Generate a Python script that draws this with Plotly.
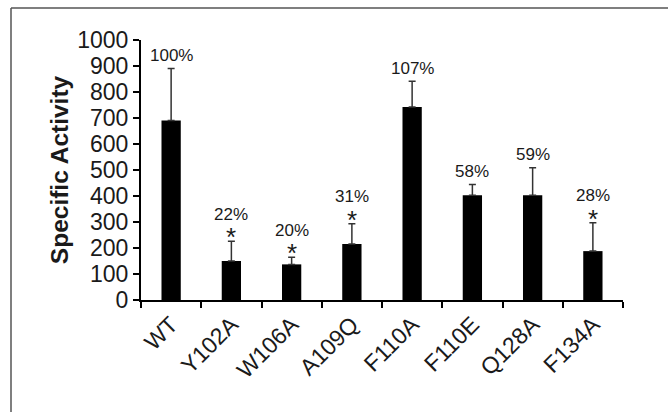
import plotly.graph_objects as go

categories = ["WT", "Y102A", "W106A", "A109Q", "F110A", "F110E", "Q128A", "F134A"]
values = [690, 150, 137, 215, 742, 403, 403, 188]
errors = [200, 76, 27, 78, 99, 41, 106, 109]
percent_labels = ["100%", "22%", "20%", "31%", "107%", "58%", "59%", "28%"]
significant = [False, True, True, True, False, False, False, True]
y_ticks = list(range(0, 1001, 100))

W, H = 668, 412
ml, mr, mt, mb = 141, 45, 40, 112
FONT = "Liberation Sans, Arial, sans-serif"
TXT = "#1a1a1a"

fig = go.Figure()
fig.add_trace(go.Bar(
    x=categories, y=values, width=0.32,
    marker=dict(color="black", line=dict(color="black", width=0)),
    error_y=dict(type="data", array=errors, arrayminus=[0]*len(errors),
                 symmetric=False, color="#333333", thickness=1.5, width=3.5),
))

for c, v, e, p, s in zip(categories, values, errors, percent_labels, significant):
    top = v + e
    if s:
        fig.add_annotation(x=c, y=top, text="*", showarrow=False, yanchor="middle",
                           yshift=4, font=dict(family=FONT, size=26, color=TXT))
        fig.add_annotation(x=c, y=top, text=p, showarrow=False, yanchor="middle",
                           yshift=27, font=dict(family=FONT, size=17, color=TXT))
    else:
        fig.add_annotation(x=c, y=top, text=p, showarrow=False, yanchor="middle",
                           yshift=13, font=dict(family=FONT, size=17, color=TXT))

# outer frame (decorative border of the figure panel: left and top edges)
pw = W - ml - mr
ph = H - mt - mb
fx0 = (11 - ml) / pw
fy1 = 1 + (mt - 8) / ph
frame = dict(color="#555555", width=1.5)
fig.add_shape(type="line", xref="paper", yref="paper", x0=fx0, x1=fx0,
              y0=-(mb + 10) / ph, y1=fy1, line=frame, layer="below")
fig.add_shape(type="line", xref="paper", yref="paper", x0=fx0, x1=1 + (mr + 10) / pw,
              y0=fy1, y1=fy1, line=frame, layer="below")

fig.update_layout(
    width=W, height=H, margin=dict(l=ml, r=mr, t=mt, b=mb, autoexpand=False),
    paper_bgcolor="white", plot_bgcolor="white", showlegend=False,
    font=dict(family=FONT, color=TXT),
    xaxis=dict(type="category", showline=True, linecolor="black", linewidth=2,
               ticks="outside", tickson="boundaries", ticklen=6, tickwidth=2,
               tickcolor="black", tickangle=-45, tickfont=dict(size=23, family=FONT, color=TXT),
               showgrid=False, zeroline=False, range=[-0.5, len(categories) - 0.5],
               automargin=False),
    yaxis=dict(range=[0, 1000], tickvals=y_ticks, showline=True, linecolor="black",
               linewidth=2, ticks="outside", ticklen=6, tickwidth=2, tickcolor="black",
               tickfont=dict(size=23, family=FONT, color=TXT), showgrid=False, zeroline=False,
               automargin=False,
               title=dict(text="<b>Specific Activity</b>", font=dict(size=24.5, family=FONT, color=TXT),
                          standoff=2)),
)

fig.write_html("out.html", config={"displayModeBar": False},
               post_script="document.body.style.margin='0';document.body.style.overflow='hidden';")
